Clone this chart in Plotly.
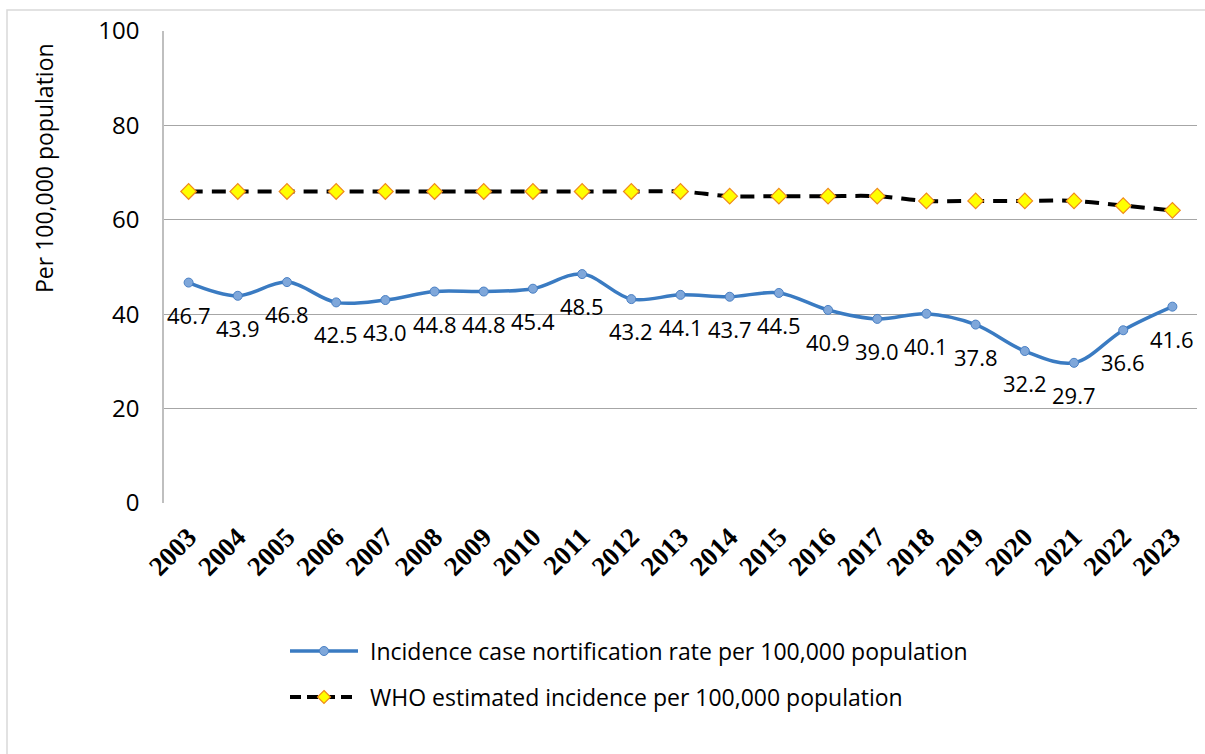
import plotly.graph_objects as go

# Notification rate vs WHO estimate, per 100,000 population
years = list(range(2003, 2024))
notification_rate = [46.7, 43.9, 46.8, 42.5, 43.0, 44.8, 44.8, 45.4, 48.5, 43.2, 44.1,
                     43.7, 44.5, 40.9, 39.0, 40.1, 37.8, 32.2, 29.7, 36.6, 41.6]
who_estimate = [66, 66, 66, 66, 66, 66, 66, 66, 66, 66, 66,
                65, 65, 65, 65, 64, 64, 64, 64, 63, 62]
y_ticks = [0, 20, 40, 60, 80, 100]
series_names = ["Incidence case nortification rate per 100,000 population",
                "WHO estimated incidence per 100,000 population"]

W, H = 1205, 754
ML, MR, MT, MB = 164, 8, 31, 251
PW, PH = W - ML - MR, H - MT - MB

SANS = "Open Sans"
BLUE = "#3A7BC2"
BLUE_FILL = "#7FA7DA"
BLUE_EDGE = "#4A80C4"
GOLD = "#FFFF00"
ORANGE = "#F08A1C"
DASH = "14px,9px"


def px_to_paper(px, py):
    return (px - ML) / PW, (H - MB - py) / PH


fig = go.Figure()

fig.add_trace(go.Scatter(
    x=years, y=notification_rate, name=series_names[0],
    mode="lines+markers",
    line=dict(color=BLUE, width=3.5, shape="spline", smoothing=1),
    marker=dict(symbol="circle", size=9, color=BLUE_FILL, line=dict(color=BLUE_EDGE, width=1)),
))

fig.add_trace(go.Scatter(
    x=years, y=who_estimate, name=series_names[1],
    mode="lines+markers",
    line=dict(color="#000000", width=4, dash=DASH, shape="spline", smoothing=1),
    marker=dict(symbol="diamond", size=12, color=GOLD, line=dict(color=ORANGE, width=1.2)),
))

# value labels under the notification-rate points
for yr, v in zip(years, notification_rate):
    fig.add_annotation(x=yr, y=v, text=f"{v:.1f}", showarrow=False,
                       xanchor="center", yanchor="middle",
                       yshift=-32, font=dict(family=SANS, size=22, color="#000000"))

# rotated y-axis caption
tx, ty = px_to_paper(44, 168)
fig.add_annotation(xref="paper", yref="paper", x=tx, y=ty, text="Per 100,000 population",
                   textangle=-90, showarrow=False, xanchor="center", yanchor="middle",
                   font=dict(family=SANS, size=23, color="#000000"))

# outer chart border
bx0, by0 = px_to_paper(7, 10)
bx1, by1 = px_to_paper(1215, 770)
fig.add_shape(type="rect", xref="paper", yref="paper", x0=bx0, y0=by1, x1=bx1, y1=by0,
              line=dict(color="#D9D9D9", width=1.5), fillcolor="rgba(0,0,0,0)", layer="below")

# legend below the plot: long line keys with a marker in the middle
key_x0, key_x1, text_x = 290, 358, 368
key_rows = [651, 697]
key_mid = (key_x0 + key_x1) / 2

# row 1: solid blue line with circle
lx0, ly = px_to_paper(key_x0, key_rows[0])
lx1, _ = px_to_paper(key_x1, key_rows[0])
fig.add_shape(type="line", xref="paper", yref="paper", x0=lx0, y0=ly, x1=lx1, y1=ly,
              line=dict(color=BLUE, width=3.5))
cx0, cy0 = px_to_paper(key_mid - 4.5, key_rows[0] - 4.5)
cx1, cy1 = px_to_paper(key_mid + 4.5, key_rows[0] + 4.5)
fig.add_shape(type="circle", xref="paper", yref="paper", x0=cx0, y0=cy1, x1=cx1, y1=cy0,
              fillcolor=BLUE_FILL, line=dict(color=BLUE_EDGE, width=1))

# row 2: dashed black line with diamond
lx0, ly = px_to_paper(key_x0, key_rows[1])
lx1, _ = px_to_paper(key_x1, key_rows[1])
fig.add_shape(type="line", xref="paper", yref="paper", x0=lx0, y0=ly, x1=lx1, y1=ly,
              line=dict(color="#000000", width=4, dash="11px,6px"))
r = 6.5
pts = [(key_mid, key_rows[1] - r), (key_mid + r, key_rows[1]),
       (key_mid, key_rows[1] + r), (key_mid - r, key_rows[1])]
pp = [px_to_paper(px, py) for px, py in pts]
path = "M " + " L ".join(f"{a},{b}" for a, b in pp) + " Z"
fig.add_shape(type="path", xref="paper", yref="paper", path=path,
              fillcolor=GOLD, line=dict(color=ORANGE, width=1.2))

for name, row in zip(series_names, key_rows):
    ax, ay = px_to_paper(text_x, row)
    fig.add_annotation(xref="paper", yref="paper", x=ax, y=ay, text=name, showarrow=False,
                       xanchor="left", yanchor="middle",
                       font=dict(family=SANS, size=23, color="#000000"))

fig.update_layout(
    width=W, height=H,
    margin=dict(l=ML, r=MR, t=MT, b=MB, autoexpand=False),
    paper_bgcolor="white", plot_bgcolor="white",
    showlegend=False,
    xaxis=dict(
        range=[2002.5, 2023.5], tickvals=years, ticktext=[str(y) for y in years],
        tickangle=-45, showgrid=False, showline=False,
        zeroline=False, ticks="", ticklabelstandoff=12,
        tickfont=dict(family="Liberation Serif", size=27, color="#000000", weight="bold"),
        automargin=False,
    ),
    yaxis=dict(
        range=[0, 100], tickvals=y_ticks, showgrid=True, gridcolor="#A6A6A6", gridwidth=1,
        zeroline=False, showline=True, linecolor="#BFBFBF", linewidth=1.5,
        ticks="", ticklabelstandoff=18,
        tickfont=dict(family=SANS, size=24, color="#000000"),
        automargin=False,
    ),
)

fig.write_html("out.html")
